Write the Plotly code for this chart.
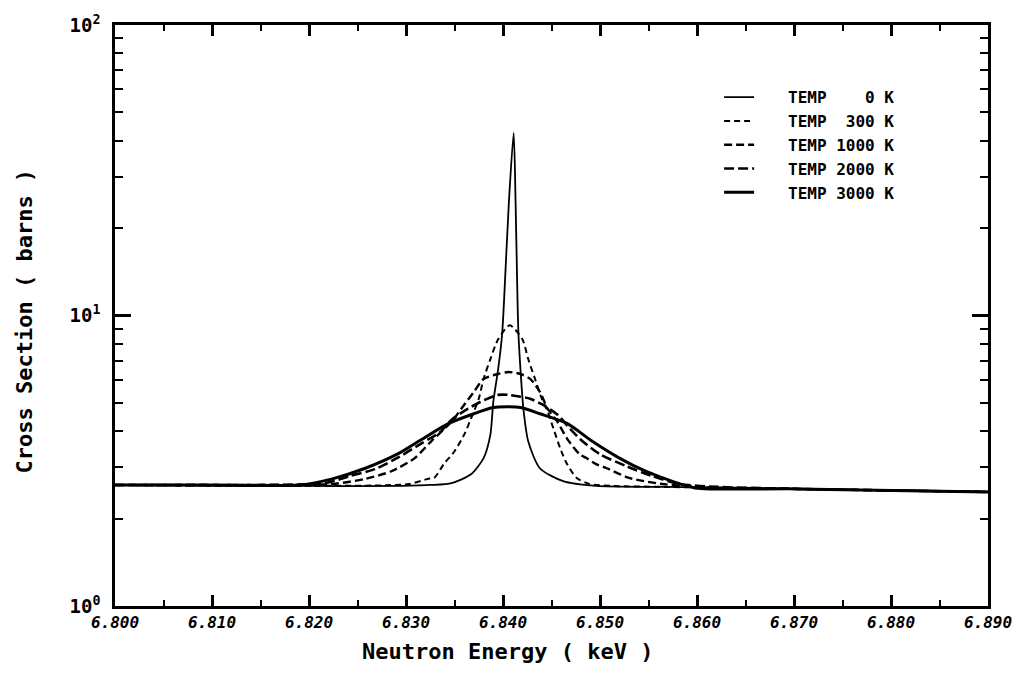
import plotly.graph_objects as go

# Neutron energy (keV) and cross section (barns)
E_0K = [6.8000, 6.8194, 6.8296, 6.8326, 6.8347, 6.8367, 6.8380, 6.8387, 6.8390, 6.8395,
        6.8399, 6.8401, 6.8406, 6.8411, 6.8413, 6.8415, 6.8416, 6.8418, 6.8421, 6.8426,
        6.8438, 6.8462, 6.8496, 6.8568, 6.8703, 6.8900]
S_0K = [2.61, 2.59, 2.59, 2.61, 2.65, 2.84, 3.23, 3.89, 5.05, 6.54,
        8.55, 11.1, 24.3, 42.5, 24.3, 11.1, 8.55, 6.54, 4.78, 3.69,
        2.98, 2.69, 2.59, 2.57, 2.53, 2.47]

E_300K = [6.8000, 6.8194, 6.8303, 6.8323, 6.8329, 6.8339, 6.8350, 6.8360, 6.8367, 6.8375,
          6.8380, 6.8387, 6.8395, 6.8407, 6.8420, 6.8426, 6.8433, 6.8440, 6.8446, 6.8452,
          6.8459, 6.8466, 6.8476, 6.8489, 6.8513, 6.8568, 6.8703, 6.8900]
S_300K = [2.61, 2.59, 2.63, 2.74, 2.76, 3.08, 3.41, 3.89, 4.42, 5.17,
          6.05, 7.08, 8.28, 9.25, 8.28, 7.08, 6.05, 5.17, 4.67, 4.08,
          3.49, 3.08, 2.76, 2.63, 2.59, 2.57, 2.53, 2.47]

E_1000K = [6.8000, 6.8092, 6.8224, 6.8258, 6.8285, 6.8309, 6.8326, 6.8347, 6.8360, 6.8370,
           6.8380, 6.8395, 6.8406, 6.8418, 6.8428, 6.8438, 6.8446, 6.8456, 6.8466, 6.8479,
           6.8486, 6.8496, 6.8507, 6.8530, 6.8564, 6.8601, 6.8703, 6.8900]
S_1000K = [2.61, 2.61, 2.63, 2.74, 2.91, 3.23, 3.69, 4.31, 4.93, 5.46,
           6.05, 6.29, 6.39, 6.29, 6.05, 5.46, 4.78, 4.31, 3.77, 3.33,
           3.23, 3.08, 2.98, 2.76, 2.63, 2.57, 2.53, 2.47]

E_2000K = [6.8000, 6.8143, 6.8217, 6.8242, 6.8268, 6.8293, 6.8316, 6.8336, 6.8347, 6.8364,
           6.8377, 6.8395, 6.8406, 6.8418, 6.8428, 6.8441, 6.8456, 6.8469, 6.8482, 6.8500,
           6.8527, 6.8554, 6.8581, 6.8622, 6.8703, 6.8900]
S_2000K = [2.61, 2.61, 2.65, 2.80, 2.96, 3.26, 3.63, 3.99, 4.38, 4.78,
           5.05, 5.33, 5.33, 5.25, 5.17, 4.93, 4.56, 4.08, 3.69, 3.33,
           3.03, 2.80, 2.63, 2.57, 2.53, 2.47]

E_3000K = [6.8000, 6.8092, 6.8191, 6.8224, 6.8258, 6.8293, 6.8316, 6.8344, 6.8370, 6.8390,
           6.8406, 6.8418, 6.8438, 6.8466, 6.8492, 6.8520, 6.8547, 6.8574, 6.8598, 6.8703,
           6.8900]
S_3000K = [2.61, 2.61, 2.61, 2.74, 2.98, 3.36, 3.74, 4.25, 4.59, 4.82,
           4.85, 4.82, 4.59, 4.25, 3.69, 3.23, 2.91, 2.69, 2.55, 2.53,
           2.47]

series_names = ["   TEMP    0 K", "   TEMP  300 K", "   TEMP 1000 K", "   TEMP 2000 K", "   TEMP 3000 K"]
x_tick_vals = [6.800, 6.810, 6.820, 6.830, 6.840, 6.850, 6.860, 6.870, 6.880, 6.890]
x_tick_text = ["6.800", "6.810", "6.820", "6.830", "6.840", "6.850", "6.860", "6.870", "6.880", "6.890"]
y_tick_vals = [1, 10, 100]
y_tick_text = ["10<sup>0</sup>", "10<sup>1</sup>", "10<sup>2</sup>"]
y_minor_vals = [2, 3, 4, 5, 6, 7, 8, 9, 20, 30, 40, 50, 60, 70, 80, 90]
x_title = "Neutron Energy ( keV )"
y_title = "Cross Section ( barns )"

styles = [
    dict(width=1.8, dash="solid"),
    dict(width=2.0, dash="6px,4px"),
    dict(width=2.4, dash="8px,4px"),
    dict(width=2.6, dash="10px,4px"),
    dict(width=3.0, dash="solid"),
]

data = [(E_0K, S_0K), (E_300K, S_300K), (E_1000K, S_1000K), (E_2000K, S_2000K), (E_3000K, S_3000K)]

fig = go.Figure()
for (ex, sy), name, st in zip(data, series_names, styles):
    fig.add_trace(go.Scatter(
        x=ex, y=sy, mode="lines", name=name,
        line=dict(color="black", width=st["width"], dash=st["dash"], shape="spline", smoothing=0.7),
    ))

x_tick_font = dict(family="DejaVu Sans Mono", size=16, color="black", weight="bold", style="italic")
y_tick_font = dict(family="DejaVu Sans Mono", size=19, color="black", weight="bold")
title_font = dict(family="DejaVu Sans Mono", size=22, color="black", weight="bold")

fig.update_layout(
    width=1024, height=677,
    margin=dict(l=115, r=28, t=20, b=71),
    paper_bgcolor="white", plot_bgcolor="white",
    showlegend=True,
    legend=dict(
        x=0.692, y=0.905, xanchor="left", yanchor="top",
        font=dict(family="DejaVu Sans Mono", size=16, color="black", weight="bold"),
        bgcolor="rgba(0,0,0,0)", borderwidth=0, tracegroupgap=0,
    ),
    xaxis=dict(
        range=[6.800, 6.890], tickvals=x_tick_vals, ticktext=x_tick_text,
        ticks="inside", ticklen=11, tickwidth=2.5, tickcolor="black",
        minor=dict(dtick=0.005, tick0=6.800, ticks="inside", ticklen=6, tickwidth=2, tickcolor="black"),
        showline=True, linewidth=2.5, linecolor="black", mirror="ticks",
        showgrid=False, zeroline=False, tickfont=x_tick_font,
    ),
    yaxis=dict(
        type="log", range=[0, 2], tickvals=y_tick_vals, ticktext=y_tick_text,
        ticks="inside", ticklen=16, tickwidth=2.5, tickcolor="black",
        minor=dict(tickvals=y_minor_vals, ticks="inside", ticklen=8, tickwidth=2, tickcolor="black"),
        showline=True, linewidth=2.5, linecolor="black", mirror="ticks",
        showgrid=False, zeroline=False, tickfont=y_tick_font, ticklabelstandoff=8,
    ),
    annotations=[
        dict(text=x_title, xref="paper", yref="paper", x=0.45, y=-0.078,
             xanchor="center", yanchor="middle", showarrow=False, font=title_font),
        dict(text=y_title, xref="paper", yref="paper", x=-0.104, y=0.49, textangle=-90,
             xanchor="center", yanchor="middle", showarrow=False, font=title_font),
    ],
)

fig.write_html("out.html")
